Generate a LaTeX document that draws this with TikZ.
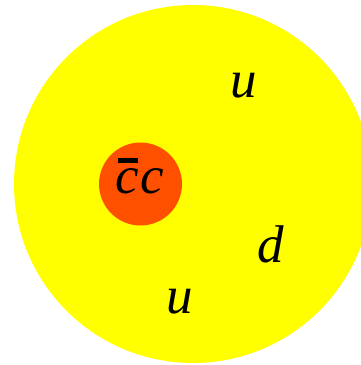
\documentclass[tikz,border=0pt]{standalone}
\usepackage{fontspec}
\setmainfont{Liberation Serif}
\usepackage{tikz}
\definecolor{amareloBarion}{RGB}{255,255,0}
\definecolor{laranjaCharm}{RGB}{255,80,0}

\begin{document}
\begin{tikzpicture}[
    x=1pt, y=-1pt,
    every node/.style={font=\fontsize{53}{60}\selectfont\itshape},
    barion/.style={circle, fill=amareloBarion, minimum size=358pt, inner sep=0pt},
    charmonio/.style={circle, fill=laranjaCharm, minimum size=83pt, inner sep=0pt},
    quark/.style={anchor=base, inner sep=0pt}
]
    % Moldura
    \useasboundingbox (0, 0) rectangle (361, 365);
    \clip (0, 0) rectangle (361, 365);

    % Barion (amarelo)
    \node[barion] (bar) at (193, 184) {};

    % Par charm-anticharm
    \node[charmonio] (cc) at (140.5, 184) {};
    \node[quark] (cclbl) at (140, 193) {\makebox[0pt][l]{\hspace{0.04em}\raisebox{0.57em}{\rule{0.38em}{0.095em}}}c\kern0.02em c};

    % Quarks de valencia
    \node[quark] (u1) at (244, 97) {u};
    \node[quark] (d1) at (271, 262) {d};
    \node[quark] (u2) at (180, 313) {u};

\end{tikzpicture}
\end{document}
